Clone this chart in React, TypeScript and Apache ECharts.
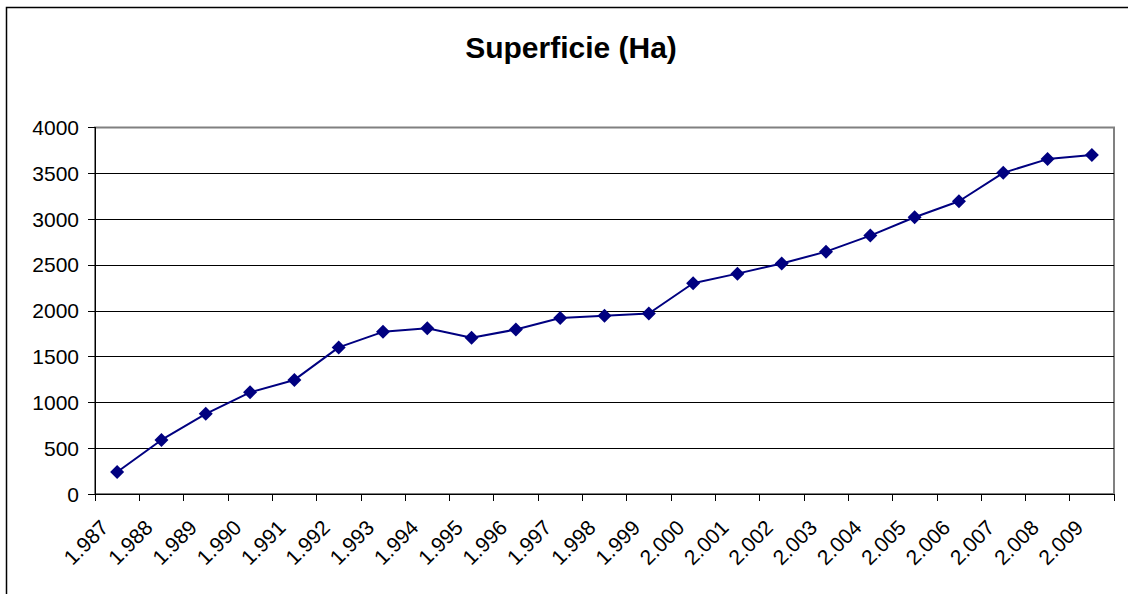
import React, { useEffect, useRef } from "react";
import * as echarts from "echarts";

const years = [
  "1.987", "1.988", "1.989", "1.990", "1.991", "1.992", "1.993", "1.994",
  "1.995", "1.996", "1.997", "1.998", "1.999", "2.000", "2.001", "2.002",
  "2.003", "2.004", "2.005", "2.006", "2.007", "2.008", "2.009",
];
const superficie = [
  240, 590, 875, 1110, 1245, 1600, 1770, 1810, 1705, 1795, 1920, 1945,
  1970, 2300, 2405, 2515, 2645, 2820, 3020, 3195, 3505, 3655, 3700,
];
const titleText = "Superficie (Ha)";
const FONT = "'Liberation Sans', Arial, sans-serif";

export default function App() {
  const ref = useRef<HTMLDivElement>(null);
  useEffect(() => {
    if (!ref.current) return;
    const chart = echarts.init(ref.current, undefined, { renderer: "svg" });
    chart.setOption({
      animation: false,
      backgroundColor: "#ffffff",
      textStyle: { fontFamily: FONT },
      graphic: [
        {
          type: "rect",
          shape: { x: 6.5, y: 7.5, width: 1300, height: 800 },
          style: { fill: "none", stroke: "#000", lineWidth: 1.5 },
          silent: true,
        },
        {
          type: "text",
          x: 571,
          y: 47,
          style: {
            text: titleText,
            font: `bold 30px ${FONT}`,
            fill: "#000",
            textAlign: "center",
            textVerticalAlign: "middle",
          },
        },
      ],
      grid: {
        left: 95,
        right: 14,
        top: 127.5,
        bottom: 100,
        show: true,
        borderColor: "#808080",
        borderWidth: 2,
        backgroundColor: "#ffffff",
      },
      xAxis: {
        type: "category",
        data: years,
        boundaryGap: true,
        axisLine: { show: true, lineStyle: { color: "#000", width: 1 } },
        axisTick: { show: true, length: 7, lineStyle: { color: "#000" }, interval: 0 },
        axisLabel: {
          interval: 0,
          rotate: 45,
          margin: 17,
          padding: [0, 18, 0, 0],
          color: "#000",
          fontSize: 21,
          fontFamily: FONT,
        },
        splitLine: { show: false },
      },
      yAxis: {
        type: "value",
        min: 0,
        max: 4000,
        interval: 500,
        axisLine: { show: true, lineStyle: { color: "#000", width: 1 } },
        axisTick: { show: true, length: 7, lineStyle: { color: "#000" } },
        axisLabel: {
          margin: 16,
          color: "#000",
          fontSize: 21,
          fontFamily: FONT,
          formatter: (v: number) => String(v),
        },
        splitLine: {
          show: true,
          lineStyle: {
            color: ["#000", "#000", "#000", "#000", "#000", "#000", "#000", "#000", "#808080"],
            width: 1,
          },
        },
      },
      series: [
        {
          type: "line",
          data: superficie,
          symbol: "diamond",
          symbolSize: 14,
          showSymbol: true,
          lineStyle: { color: "#000080", width: 2 },
          itemStyle: { color: "#000080" },
        },
      ],
    });
    return () => chart.dispose();
  }, []);
  return (
    <div
      ref={ref}
      style={{ position: "fixed", left: 0, top: 0, width: 1128, height: 594 }}
    />
  );
}
